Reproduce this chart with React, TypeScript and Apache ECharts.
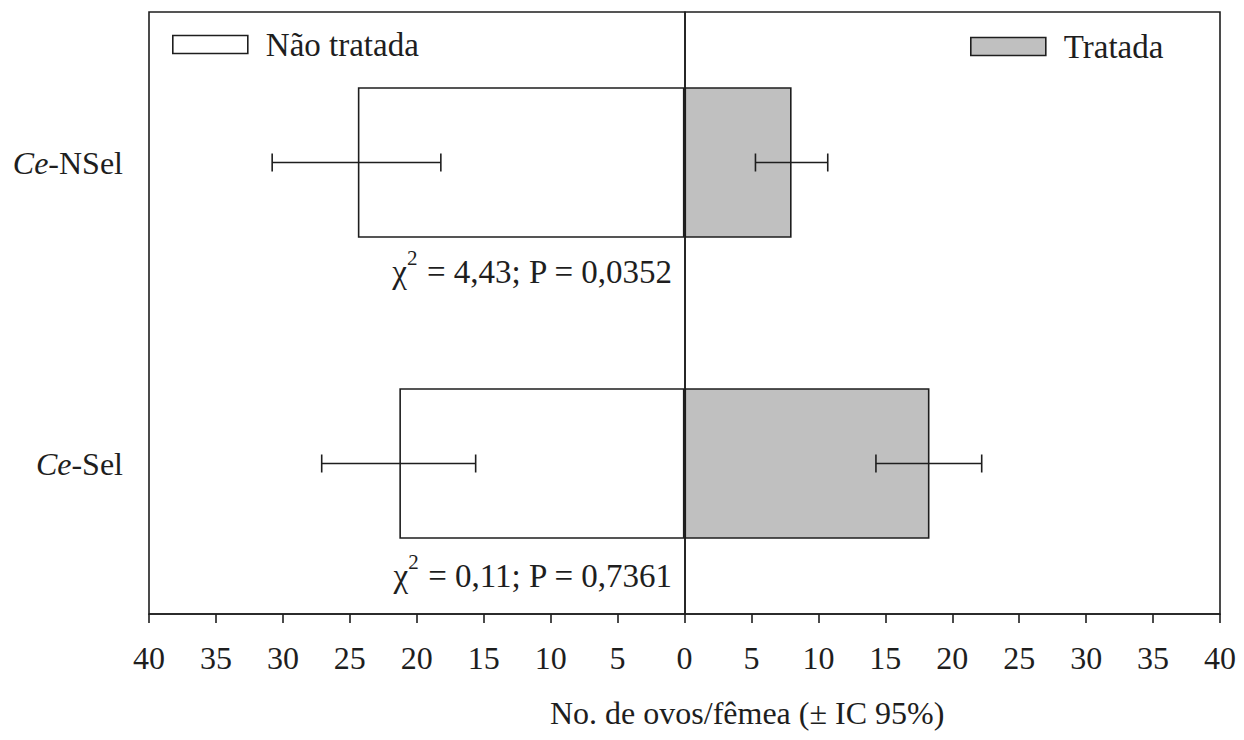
import React, { useEffect, useRef } from 'react';
import * as echarts from 'echarts';

const categories = ['Ce-NSel', 'Ce-Sel'];
const untreated = [-24.4, -21.3];
const treated = [8.0, 18.3];
const untreatedLow = [-30.8, -27.1];
const untreatedHigh = [-18.2, -15.6];
const treatedLow = [5.3, 14.3];
const treatedHigh = [10.7, 22.2];
const chiValues = ['4,43', '0,11'];
const pValues = ['0,0352', '0,7361'];
const seriesNames = ['Não tratada', 'Tratada'];
const axisTitle = 'No. de ovos/fêmea (± IC 95%)';

const FF = 'Liberation Serif, serif';
const INK = '#1e1e1e';

export default function App() {
  const ref = useRef<HTMLDivElement>(null);
  useEffect(() => {
    if (!ref.current) return;
    const chart = echarts.init(ref.current, undefined, { renderer: 'svg' });

    const errData = (lo: number[], hi: number[]) => categories.map((_, i) => [i, lo[i], hi[i]]);

    const renderErr = (params: any, api: any) => {
      const a = api.coord([api.value(1), api.value(0)]);
      const b = api.coord([api.value(2), api.value(0)]);
      const cap = 9;
      const st = { stroke: INK, lineWidth: 1.6 };
      return {
        type: 'group',
        children: [
          { type: 'line', shape: { x1: a[0], y1: a[1], x2: b[0], y2: b[1] }, style: st },
          { type: 'line', shape: { x1: a[0], y1: a[1] - cap, x2: a[0], y2: a[1] + cap }, style: st },
          { type: 'line', shape: { x1: b[0], y1: b[1] - cap, x2: b[0], y2: b[1] + cap }, style: st },
        ],
      };
    };

    const annot = (i: number, y: number) => ({
      type: 'text',
      x: 672,
      y,
      style: {
        text: `{g|χ}{s|2}{n| = ${chiValues[i]}; P = ${pValues[i]}}`,
        align: 'right',
        verticalAlign: 'middle',
        fill: INK,
        rich: {
          g: { fontSize: 33, fontFamily: FF, lineHeight: 50, color: INK },
          s: { fontSize: 21, fontFamily: FF, lineHeight: 22, verticalAlign: 'top', color: INK },
          n: { fontSize: 33, fontFamily: FF, lineHeight: 50, color: INK },
        },
      },
    });

    const legendText = { fontSize: 33, fontFamily: FF, color: INK, padding: [0, 0, 0, 13] };

    chart.setOption({
      animation: false,
      backgroundColor: '#ffffff',
      grid: {
        left: 149,
        right: 24,
        top: 12,
        bottom: 126,
        show: true,
        borderColor: INK,
        borderWidth: 1.6,
        containLabel: false,
      },
      legend: [
        {
          left: 172,
          top: 28,
          padding: 0,
          itemWidth: 75,
          itemHeight: 18,
          icon: 'rect',
          textStyle: legendText,
          data: [{ name: seriesNames[0], itemStyle: { color: '#ffffff', borderColor: INK, borderWidth: 1.6 } }],
        },
        {
          left: 970,
          top: 30,
          padding: 0,
          itemWidth: 75,
          itemHeight: 18,
          icon: 'rect',
          textStyle: legendText,
          data: [{ name: seriesNames[1], itemStyle: { color: '#c0c0c0', borderColor: INK, borderWidth: 1.6 } }],
        },
      ],
      xAxis: {
        type: 'value',
        min: -40,
        max: 40,
        interval: 5,
        axisLine: { show: true, lineStyle: { color: INK, width: 1.6 } },
        axisTick: { show: true, inside: false, length: 9, lineStyle: { color: INK, width: 1.6 } },
        splitLine: { show: false },
        axisLabel: {
          formatter: (v: number) => String(Math.abs(v)),
          fontSize: 32,
          fontFamily: FF,
          color: INK,
          margin: 28,
          showMinLabel: true,
          showMaxLabel: true,
        },
      },
      yAxis: {
        type: 'category',
        data: categories,
        inverse: true,
        axisLine: { show: true, lineStyle: { color: INK, width: 1.6 } },
        axisTick: { show: true, inside: false, length: 9, alignWithLabel: true, lineStyle: { color: INK, width: 1.6 } },
        axisLabel: {
          margin: 26,
          formatter: (v: string) => {
            const k = v.indexOf('-');
            return `{i|${v.slice(0, k)}}{n|${v.slice(k)}}`;
          },
          rich: {
            i: { fontSize: 32, fontFamily: FF, fontStyle: 'italic', color: INK },
            n: { fontSize: 32, fontFamily: FF, color: INK },
          },
        },
      },
      graphic: [
        annot(0, 272),
        annot(1, 576),
        {
          type: 'text',
          x: 550,
          y: 713,
          style: {
            text: axisTitle,
            align: 'left',
            verticalAlign: 'middle',
            fontSize: 32,
            fontFamily: FF,
            fill: INK,
          },
        },
      ],
      series: [
        {
          name: seriesNames[0],
          type: 'bar',
          stack: 'total',
          barWidth: '50%',
          data: untreated,
          itemStyle: { color: '#ffffff', borderColor: INK, borderWidth: 1.6 },
        },
        {
          name: seriesNames[1],
          type: 'bar',
          stack: 'total',
          barWidth: '50%',
          data: treated,
          itemStyle: { color: '#c0c0c0', borderColor: INK, borderWidth: 1.6 },
          markLine: {
            silent: true,
            symbol: ['none', 'none'],
            label: { show: false },
            lineStyle: { color: INK, width: 1.6, type: 'solid' },
            data: [{ xAxis: 0 }],
          },
        },
        {
          type: 'custom',
          renderItem: renderErr,
          encode: { y: 0, x: [1, 2] },
          data: errData(untreatedLow, untreatedHigh),
          z: 5,
        },
        {
          type: 'custom',
          renderItem: renderErr,
          encode: { y: 0, x: [1, 2] },
          data: errData(treatedLow, treatedHigh),
          z: 5,
        },
      ],
    });

    return () => chart.dispose();
  }, []);

  return <div ref={ref} style={{ width: 1244, height: 740, margin: -8 }} />;
}
